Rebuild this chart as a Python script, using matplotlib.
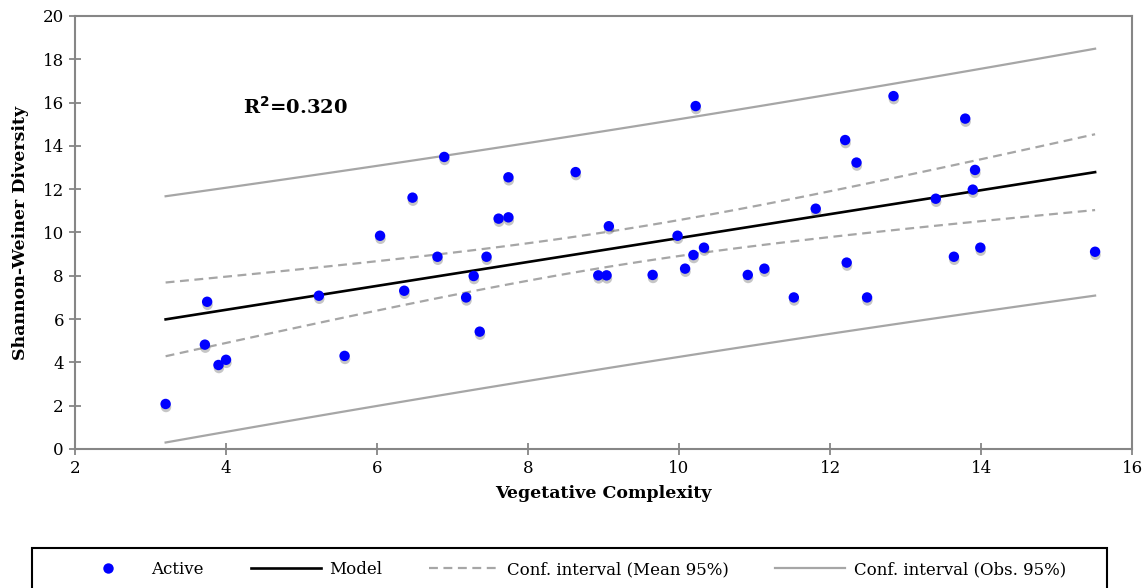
import numpy as np
import matplotlib
matplotlib.use('Agg')
import matplotlib.pyplot as plt
import matplotlib.patches as patches
import matplotlib.patheffects as pe
from matplotlib.lines import Line2D

# Vegetative complexity vs Shannon-Weiner diversity (active sites)
veg_complexity = [3.20, 3.72, 3.75, 3.90, 4.00, 5.23, 5.57, 6.04, 6.36, 6.47,
                  6.80, 6.89, 7.18, 7.28, 7.36, 7.45, 7.61, 7.74, 7.74, 8.63,
                  8.93, 9.04, 9.07, 9.65, 9.98, 10.08, 10.19, 10.22, 10.33, 10.91,
                  11.13, 11.52, 11.81, 12.20, 12.22, 12.35, 12.49, 12.84, 13.40, 13.64,
                  13.79, 13.89, 13.92, 13.99, 15.51]
diversity = [2.08, 4.82, 6.80, 3.88, 4.12, 7.08, 4.30, 9.85, 7.31, 11.61,
             8.88, 13.49, 7.00, 7.99, 5.42, 8.88, 10.64, 10.70, 12.55, 12.79,
             8.02, 8.02, 10.29, 8.04, 9.85, 8.33, 8.96, 15.84, 9.30, 8.04,
             8.33, 7.00, 11.10, 14.27, 8.61, 13.23, 7.00, 16.30, 11.56, 8.88,
             15.26, 11.98, 12.89, 9.30, 9.11]
r2_label = 'R$^{\\mathbf{2}}$=0.320'

x = np.array(veg_complexity)
y = np.array(diversity)

# least squares fit with 95% intervals for the mean and for new observations
n = len(x)
slope, intercept = np.polyfit(x, y, 1)
resid = y - (intercept + slope * x)
s = np.sqrt(np.sum(resid ** 2) / (n - 2))
sxx = np.sum((x - x.mean()) ** 2)
t_crit = 2.0167  # t(0.975, 43)

xs = np.linspace(x.min(), x.max(), 100)
fit = intercept + slope * xs
se_mean = s * np.sqrt(1.0 / n + (xs - x.mean()) ** 2 / sxx)
se_obs = s * np.sqrt(1.0 + 1.0 / n + (xs - x.mean()) ** 2 / sxx)

plt.rcParams['font.family'] = 'DejaVu Serif'

fig = plt.figure(figsize=(11.47, 5.88), dpi=100)
ax = fig.add_axes([0.0654, 0.2364, 0.9216, 0.7364])

gray_ci = '#a6a6a6'
ax.plot(xs, fit - se_obs * t_crit, color=gray_ci, lw=1.6)
ax.plot(xs, fit + se_obs * t_crit, color=gray_ci, lw=1.6)
ax.plot(xs, fit - se_mean * t_crit, color=gray_ci, lw=1.6, ls=(0, (4, 2.5)))
ax.plot(xs, fit + se_mean * t_crit, color=gray_ci, lw=1.6, ls=(0, (4, 2.5)))
ax.plot(xs, fit, color='black', lw=1.9)

ax.plot(x, y, 'o', color='#0000ff', ms=7.5, mec='none', zorder=5,
        path_effects=[pe.SimplePatchShadow(offset=(0.3, -2.2), shadow_rgbFace='#444444', alpha=0.3),
                      pe.Normal()])

ax.set_xlim(2, 16)
ax.set_ylim(0, 20)
ax.set_xticks(range(2, 17, 2))
ax.set_yticks(range(0, 21, 2))

spine_col = '#868686'
for sp in ax.spines.values():
    sp.set_color(spine_col)
    sp.set_linewidth(1.5)
ax.tick_params(direction='inout', length=8, width=1.3, color=spine_col,
               labelsize=12, pad=4)

ax.set_xlabel('Vegetative Complexity', fontsize=12.5, fontweight='bold', labelpad=6)
ax.set_ylabel('Shannon-Weiner Diversity', fontsize=12.5, fontweight='bold', labelpad=10)

ax.text(4.22, 15.8, r2_label, fontsize=14, fontweight='bold', ha='left', va='center')

# legend box along the bottom edge
box = patches.Rectangle((0.028, -0.05), 0.937, 0.118, transform=fig.transFigure,
                        fill=False, ec='black', lw=1.5)
fig.patches.append(box)

handles = [
    Line2D([], [], ls='none', marker='o', color='#0000ff', ms=7.5, mec='none'),
    Line2D([], [], color='black', lw=1.9),
    Line2D([], [], color=gray_ci, lw=1.6, ls=(0, (4, 2.5))),
    Line2D([], [], color=gray_ci, lw=1.6),
]
labels = ['Active', 'Model', 'Conf. interval (Mean 95%)', 'Conf. interval (Obs. 95%)']
fig.legend(handles, labels, loc='center', bbox_to_anchor=(0.4965, 0.031), ncol=4,
           frameon=False, fontsize=12, handlelength=4.2, handletextpad=0.5,
           columnspacing=2.8)

fig.savefig('out.png', dpi=100)
